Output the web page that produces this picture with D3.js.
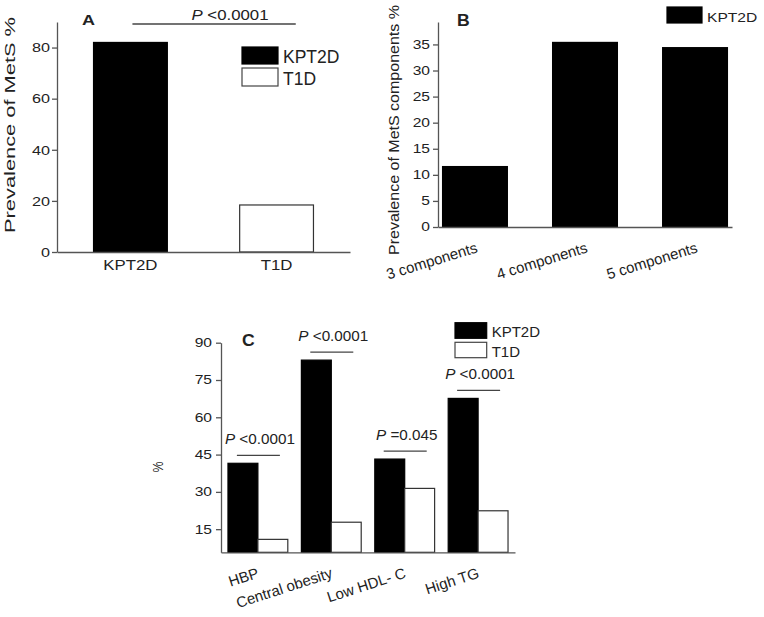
<!DOCTYPE html>
<html>
<head>
<meta charset="utf-8">
<script src="https://cdn.jsdelivr.net/npm/d3@7/dist/d3.min.js"></script>
<style>
  body { margin: 0; background: #fff; }
  svg { display: block; font-family: Arial, 'Liberation Sans', sans-serif; }
  .domain { stroke: #555; stroke-width: 1.3; }
  .tick line { stroke: #555; stroke-width: 1.3; }
  text { fill: #222; }
</style>
</head>
<body>
<div id="chart"></div>
<script>
// panel A
var aGroups = ['KPT2D', 'T1D']
var aValues = [82, 18.4]
var aTicks = [0, 20, 40, 60, 80]

// panel B
var bCategories = ['3 components', '4 components', '5 components']
var bValues = [11.7, 35.5, 34.5]
var bTicks = [0, 5, 10, 15, 20, 25, 30, 35]

// panel C
var cCategories = ['HBP', 'Central obesity', 'Low HDL- C', 'High TG']
var cSeries = ['KPT2D', 'T1D']
var cKPT2D = [41.5, 83, 43.2, 67.6]
var cT1D = [10.9, 17.8, 31.4, 22.4]
var cPValues = ['<0.0001', '<0.0001', '=0.045', '<0.0001']
var cTicks = [15, 30, 45, 60, 75, 90]

var svg = d3.select('#chart').append('svg')
  .attr('width', 764)
  .attr('height', 617)

// the source picture is stretched sideways, so widen text a bit
function stretch (sel, k) {
  sel.each(function () {
    var t = d3.select(this)
    var x = +t.attr('x') || 0
    t.attr('x', x / k).attr('transform', 'scale(' + k + ',1)')
  })
  return sel
}

function addText (parent, x, y, str, size, k, opts) {
  opts = opts || {}
  var g = parent.append('g').attr('transform', 'translate(' + x + ',' + y + ')')
  var t = g.append('text')
    .attr('font-size', size)
    .attr('text-anchor', opts.anchor || 'start')
    .attr('font-weight', opts.bold ? 'bold' : null)
  if (opts.italicP) {
    t.append('tspan').attr('font-style', 'italic').text('P')
    t.append('tspan').text(' ' + str)
  } else {
    t.text(str)
  }
  if (k) t.attr('transform', 'scale(' + k + ',1)')
  return t
}

function rotLabel (parent, x, y, str, size, len) {
  parent.append('text')
    .attr('transform', 'translate(' + x + ',' + y + ') rotate(-90)')
    .attr('text-anchor', 'middle')
    .attr('font-size', size)
    .attr('textLength', len)
    .attr('lengthAdjust', 'spacingAndGlyphs')
    .text(str)
}

function styleYAxis (g, size, k) {
  g.attr('font-family', null).attr('font-size', size)
  g.selectAll('.tick text').attr('fill', '#222')
  stretch(g.selectAll('.tick text'), k)
}

function legendItem (parent, x, y, w, h, fill, label, size, k) {
  parent.append('rect')
    .attr('x', x).attr('y', y).attr('width', w).attr('height', h)
    .attr('fill', fill)
    .attr('stroke', fill === '#000' ? '#000' : '#444')
    .attr('stroke-width', 1.2)
  addText(parent, x + w + 5, y + h - 1, label, size, k)
}

// ---------- A ----------
;(function drawA () {
  var g = svg.append('g').classed('panel-a', true)
  var x = d3.scaleBand().domain(aGroups).range([57, 350])
    .paddingInner(0.495).paddingOuter(0.25)
  var y = d3.scaleLinear().domain([0, 90]).range([252, 22])

  g.selectAll('.bar')
    .data(aGroups)
    .enter().append('rect')
    .attr('class', 'bar')
    .attr('x', function (d) { return x(d) })
    .attr('y', function (d, i) { return y(aValues[i]) })
    .attr('width', x.bandwidth())
    .attr('height', function (d, i) { return y(0) - y(aValues[i]) })
    .attr('fill', function (d, i) { return i === 0 ? '#000' : '#fff' })
    .attr('stroke', function (d, i) { return i === 0 ? '#000' : '#333' })
    .attr('stroke-width', 1.2)

  var ya = g.append('g')
    .attr('transform', 'translate(57,0)')
    .call(d3.axisLeft(y).tickValues(aTicks).tickSize(5).tickPadding(2).tickSizeOuter(0))
  styleYAxis(ya, 13.5, 1.2)

  var xa = g.append('g')
    .attr('transform', 'translate(0,252)')
    .call(d3.axisBottom(x).tickSize(0).tickSizeOuter(0))
  xa.attr('font-family', null).attr('font-size', 14)
  xa.selectAll('.tick text').attr('y', 18).attr('dy', 0).attr('fill', '#222')
  stretch(xa.selectAll('.tick text'), 1.2)

  rotLabel(g, 15, 125, 'Prevalence of MetS %', 14.5, 216)
  addText(g, 82, 25, 'A', 15, 1.2, { bold: true })

  // significance bar
  var x1 = x(aGroups[0]) + x.bandwidth() / 2 + 2
  var x2 = x(aGroups[1]) + x.bandwidth() * 0.76
  g.append('line')
    .attr('x1', x1).attr('x2', x2).attr('y1', 24).attr('y2', 24)
    .attr('stroke', '#444').attr('stroke-width', 1.3)
  addText(g, 230, 20, '<0.0001', 15, 1.12, { anchor: 'middle', italicP: true })

  legendItem(g, 242, 47, 36, 17, '#000', 'KPT2D', 17.5)
  legendItem(g, 242, 68, 36, 18, '#fff', 'T1D', 17.5)
})()

// ---------- B ----------
;(function drawB () {
  var g = svg.append('g').classed('panel-b', true)
  var x = d3.scalePoint().domain(bCategories).range([438, 732]).padding(0.336)
  var bw = x.step() * 0.6
  var y = d3.scaleLinear().domain([0, 39.3]).range([227, 22])

  g.selectAll('.bar')
    .data(bCategories)
    .enter().append('rect')
    .attr('class', 'bar')
    .attr('x', function (d) { return x(d) - bw / 2 })
    .attr('y', function (d, i) { return y(bValues[i]) })
    .attr('width', bw)
    .attr('height', function (d, i) { return y(0) - y(bValues[i]) })
    .attr('fill', '#000')

  var ya = g.append('g')
    .attr('transform', 'translate(438,0)')
    .call(d3.axisLeft(y).tickValues(bTicks).tickSize(5).tickPadding(3).tickSizeOuter(0))
  styleYAxis(ya, 12, 1.3)

  var xa = g.append('g')
    .attr('transform', 'translate(0,227)')
    .call(d3.axisBottom(x).tickSize(0).tickSizeOuter(0))
  xa.attr('font-family', null).attr('font-size', 15)
  xa.selectAll('.tick text')
    .attr('y', 0).attr('dy', 0).attr('fill', '#222')
    .attr('text-anchor', 'end')
    .attr('transform', 'translate(3,25) rotate(-17)')

  rotLabel(g, 399, 130, 'Prevalence of MetS components %', 15, 250)
  addText(g, 457, 26, 'B', 16, 1.1, { bold: true })

  legendItem(g, 667, 7, 35, 16, '#000', 'KPT2D', 12, 1.3)
})()

// ---------- C ----------
;(function drawC () {
  var g = svg.append('g').classed('panel-c', true)
  var x0 = d3.scaleBand().domain(cCategories).range([221, 515])
    .paddingInner(0.185).paddingOuter(0.095)
  var x1 = d3.scaleBand().domain(cSeries).range([0, x0.bandwidth()])
  var y = d3.scaleLinear().domain([5.7, 90]).range([552.3, 342.7])

  var rows = cCategories.map(function (c, i) {
    return { cat: c, vals: [cKPT2D[i], cT1D[i]], p: cPValues[i] }
  })

  var groups = g.selectAll('.group')
    .data(rows)
    .enter().append('g')
    .attr('class', 'group')
    .attr('transform', function (d) { return 'translate(' + x0(d.cat) + ',0)' })

  groups.selectAll('rect')
    .data(function (d) { return d.vals.map(function (v, i) { return { s: cSeries[i], v: v } }) })
    .enter().append('rect')
    .attr('x', function (d) { return x1(d.s) })
    .attr('y', function (d) { return y(d.v) })
    .attr('width', x1.bandwidth())
    .attr('height', function (d) { return y.range()[0] - y(d.v) })
    .attr('fill', function (d) { return d.s === 'KPT2D' ? '#000' : '#fff' })
    .attr('stroke', function (d) { return d.s === 'KPT2D' ? '#000' : '#333' })
    .attr('stroke-width', 1.2)

  var ya = g.append('g')
    .attr('transform', 'translate(221,0)')
    .call(d3.axisLeft(y).tickValues(cTicks).tickSize(5).tickPadding(4).tickSizeOuter(0))
  styleYAxis(ya, 12, 1.3)

  var xa = g.append('g')
    .attr('transform', 'translate(0,552.3)')
    .call(d3.axisBottom(x0).tickSize(0).tickSizeOuter(0))
  xa.attr('font-family', null).attr('font-size', 15)
  xa.selectAll('.tick text')
    .attr('y', 0).attr('dy', 0).attr('fill', '#222')
    .attr('text-anchor', 'end')
    .attr('transform', 'translate(2,25) rotate(-18)')

  // p-value bars above each group
  rows.forEach(function (d) {
    var cx = x0(d.cat) + x0.bandwidth() / 2
    var ly = y(d.vals[0]) - 8
    g.append('line')
      .attr('x1', cx - 21).attr('x2', cx + 22)
      .attr('y1', ly).attr('y2', ly)
      .attr('stroke', '#444').attr('stroke-width', 1.3)
    addText(g, cx + 2, ly - 11, d.p, 14, 1.09, { anchor: 'middle', italicP: true })
  })

  rotLabel(g, 163, 467, '%', 15, 11)
  addText(g, 242, 346, 'C', 16, 1.1, { bold: true })

  legendItem(g, 455, 322.7, 31.7, 15.6, '#000', 'KPT2D', 15)
  legendItem(g, 455, 342.3, 31.7, 15.4, '#fff', 'T1D', 15)
})()
</script>
</body>
</html>
